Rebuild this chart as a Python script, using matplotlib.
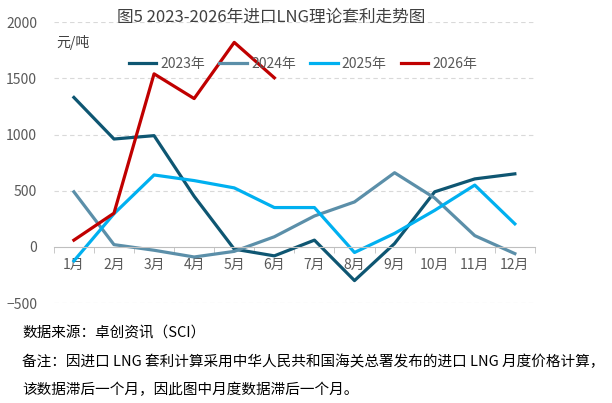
import matplotlib.pyplot as plt
from matplotlib.ticker import FixedLocator

plt.rcParams['font.family'] = ['Noto Sans CJK SC', 'DejaVu Sans']

months = ['1月', '2月', '3月', '4月', '5月', '6月', '7月', '8月', '9月', '10月', '11月', '12月']
y2023 = [1330, 960, 990, 450, -20, -80, 60, -300, 30, 490, 605, 650]
y2024 = [490, 20, -30, -90, -40, 90, 275, 400, 660, 435, 100, -60]
y2025 = [-125, 295, 640, 590, 525, 350, 350, -50, 120, 325, 550, 205]
y2026 = [60, 300, 1540, 1320, 1820, 1505]

fig = plt.figure(figsize=(6.12, 4.03), dpi=100)
ax = fig.add_axes([0.088, 0.248, 0.786, 0.697])

x = list(range(1, 13))
ax.plot(x, y2023, color='#0E5672', lw=2.3, label='2023年')
ax.plot(x, y2024, color='#5B8FA9', lw=2.3, label='2024年')
ax.plot(x, y2025, color='#00B0F0', lw=2.3, label='2025年')
ax.plot(x[:len(y2026)], y2026, color='#C00000', lw=2.3, label='2026年')

ax.set_xlim(0.5, 12.5)
ax.set_ylim(-500, 2000)
ax.set_yticks([-500, 0, 500, 1000, 1500, 2000])
ax.tick_params(axis='y', length=0, labelsize=10, labelcolor='#595959', pad=12)
for v in [-500, 500, 1000, 1500, 2000]:
    ax.axhline(v, color='#D9D9D9', lw=0.8, ls=(0, (4, 3)), zorder=0)

for s in ['top', 'right', 'left']:
    ax.spines[s].set_visible(False)
ax.spines['bottom'].set_position(('data', 0))
ax.spines['bottom'].set_color('#BFBFBF')
ax.set_xticks(x)
ax.set_xticklabels(months)
ax.xaxis.set_minor_locator(FixedLocator([i + 0.5 for i in range(13)]))
ax.tick_params(axis='x', which='major', length=0, labelsize=10, labelcolor='#595959', pad=8)
ax.tick_params(axis='x', which='minor', length=4, color='#BFBFBF')

ax.text(0.005, 0.955, '元/吨', transform=ax.transAxes, fontsize=10, color='#404040', va='top')
fig.text(0.443, 0.958, '图5 2023-2026年进口LNG理论套利走势图', ha='center', va='center',
         fontsize=12, color='#404040')

ax.legend(loc='center', bbox_to_anchor=(0.518, 0.852), ncol=4, frameon=False,
          fontsize=10, labelcolor='#595959', handlelength=2.0, columnspacing=1.0,
          handletextpad=0.3)

fig.text(0.036, 0.173, '数据来源：卓创资讯（SCI）', fontsize=10.5, color='black', va='center')
fig.text(0.036, 0.102, '备注：因进口 LNG 套利计算采用中华人民共和国海关总署发布的进口 LNG 月度价格计算，',
         fontsize=10.5, color='black', va='center')
fig.text(0.036, 0.032, '该数据滞后一个月，因此图中月度数据滞后一个月。', fontsize=10.5,
         color='black', va='center')

fig.savefig('out.png', dpi=100)
